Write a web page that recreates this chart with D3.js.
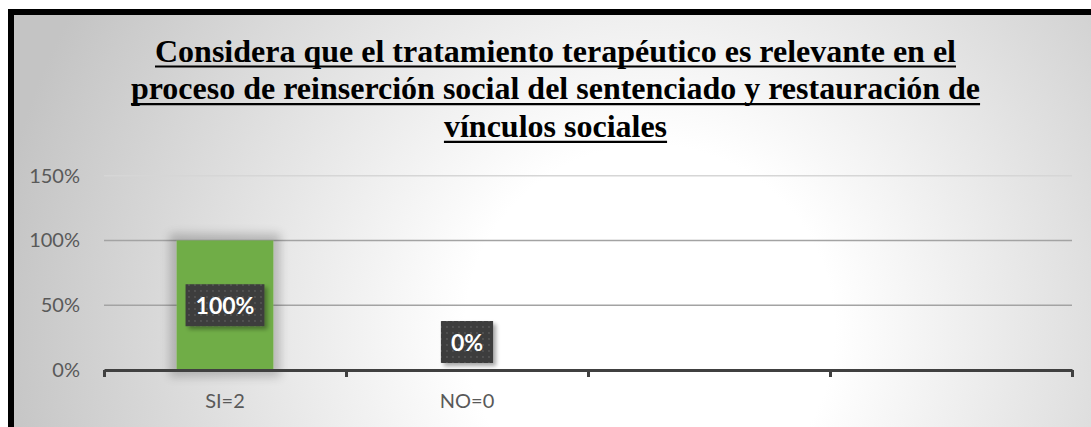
<!DOCTYPE html>
<html><head><meta charset="utf-8">
<script src="https://cdn.jsdelivr.net/npm/d3@7"></script>
<style>html,body{margin:0;padding:0;background:#fff;overflow:hidden}</style>
</head><body>
<svg id="chart" width="1091" height="427"></svg>
<script>
const titleLines = ["Considera que el tratamiento terapéutico es relevante en el",
  "proceso de reinserción social del sentenciado y restauración de",
  "vínculos sociales"];
const categories = ["SI=2", "NO=0", "", ""];
const values = [1, 0];
const valueLabels = ["100%", "0%"];
const yTicks = [0, 0.5, 1, 1.5];

const svg = d3.select("#chart");
const defs = svg.append("defs");

const bg = defs.append("radialGradient").attr("id", "bg")
  .attr("gradientUnits", "userSpaceOnUse")
  .attr("cx", 650).attr("cy", 330).attr("r", 660);
bg.append("stop").attr("offset", 0).attr("stop-color", "#ffffff");
bg.append("stop").attr("offset", 0.28).attr("stop-color", "#ffffff");
bg.append("stop").attr("offset", 1).attr("stop-color", "#c4c4c4");

const pat = defs.append("pattern").attr("id", "dots")
  .attr("patternUnits", "userSpaceOnUse").attr("width", 6).attr("height", 6);
pat.append("rect").attr("width", 6).attr("height", 6).attr("fill", "#3c3c3c");
pat.append("circle").attr("cx", 3).attr("cy", 3).attr("r", 0.9).attr("fill", "#5a5a5a");

const glow = defs.append("filter").attr("id", "glow")
  .attr("x", "-40%").attr("y", "-40%").attr("width", "180%").attr("height", "180%");
glow.append("feMorphology").attr("in", "SourceAlpha").attr("operator", "dilate").attr("radius", 7).attr("result", "d");
glow.append("feGaussianBlur").attr("in", "d").attr("stdDeviation", 5).attr("result", "b");
glow.append("feComponentTransfer").attr("in", "b").attr("result", "s")
  .append("feFuncA").attr("type", "linear").attr("slope", 0.2);
const gm = glow.append("feMerge");
gm.append("feMergeNode").attr("in", "s");
gm.append("feMergeNode").attr("in", "SourceGraphic");

const sh = defs.append("filter").attr("id", "lblshadow")
  .attr("x", "-30%").attr("y", "-30%").attr("width", "170%").attr("height", "170%");
sh.append("feOffset").attr("in", "SourceAlpha").attr("dx", 3).attr("dy", 3).attr("result", "o");
sh.append("feGaussianBlur").attr("in", "o").attr("stdDeviation", 2).attr("result", "b");
sh.append("feComponentTransfer").attr("in", "b").attr("result", "s")
  .append("feFuncA").attr("type", "linear").attr("slope", 0.35);
const sm = sh.append("feMerge");
sm.append("feMergeNode").attr("in", "s");
sm.append("feMergeNode").attr("in", "SourceGraphic");

// background + frame
svg.append("rect").attr("x", 11).attr("y", 12).attr("width", 1200).attr("height", 600)
  .attr("fill", "url(#bg)").attr("stroke", "#000").attr("stroke-width", 6);

// title
const tg = svg.append("g");
titleLines.forEach((t, i) => {
  const yb = 61.5 + i * 37.7;
  const txt = tg.append("text").attr("x", 555.5).attr("y", yb)
    .attr("text-anchor", "middle")
    .style("font-family", "'Liberation Serif','Times New Roman',serif")
    .style("font-weight", "bold").style("font-size", "32px").attr("fill", "#000")
    .text(t);
  const w = txt.node().getComputedTextLength();
  tg.append("line").attr("x1", 555.5 - w / 2).attr("x2", 555.5 + w / 2)
    .attr("y1", yb + 5).attr("y2", yb + 5).attr("stroke", "#000").attr("stroke-width", 2.2);
});

// scales
const pLeft = 104, pRight = 1072, pTop = 175.7, pBottom = 370;
const x = d3.scaleBand().domain(d3.range(categories.length)).range([pLeft, pRight]).padding(0);
const xEdge = d3.scaleLinear().domain([0, categories.length]).range([pLeft, pRight]);
const y = d3.scaleLinear().domain([0, 1.5]).range([pBottom, pTop]);

// gridlines
svg.append("g").selectAll("line").data(yTicks.filter(d => d > 0)).join("line")
  .attr("x1", pLeft).attr("x2", pRight)
  .attr("y1", d => y(d)).attr("y2", d => y(d))
  .attr("stroke", d => d === 1.5 ? "#d6d6d6" : "#a3a3a3").attr("stroke-width", 1.5);

// y axis labels
const yAxis = d3.axisLeft(y).tickValues(yTicks).tickFormat(d3.format(".0%")).tickSize(0).tickPadding(0);
const ya = svg.append("g").attr("transform", `translate(80,0)`).call(yAxis);
ya.select(".domain").remove();
ya.selectAll("text").attr("fill", "#595959").style("font-family", "Lato, sans-serif").style("font-size", "20px");

// bars
const bw = x.bandwidth() * 0.4;
svg.append("g").selectAll("rect").data(values).join("rect")
  .filter(d => d > 0)
  .attr("x", (d, i) => x(i) + (x.bandwidth() - bw) / 2)
  .attr("y", d => y(d)).attr("width", bw).attr("height", d => y(0) - y(d))
  .attr("fill", "#70ad47").attr("filter", "url(#glow)");

// x axis
const xAxis = d3.axisBottom(xEdge).tickValues(d3.range(categories.length + 1)).tickFormat("").tickSizeInner(7).tickSizeOuter(0);
const xa = svg.append("g").attr("transform", `translate(0,${pBottom})`).call(xAxis);
xa.select(".domain").attr("stroke", "#404040").attr("stroke-width", 3);
xa.selectAll(".tick line").attr("stroke", "#404040").attr("stroke-width", 3);

svg.append("g").selectAll("text").data(categories).join("text")
  .attr("x", (d, i) => x(i) + x.bandwidth() / 2).attr("y", 408)
  .attr("text-anchor", "middle").attr("fill", "#595959")
  .style("font-family", "Lato, sans-serif").style("font-size", "20px")
  .text(d => d);

// value labels
const lg = svg.append("g");
values.forEach((v, i) => {
  const cx = x(i) + x.bandwidth() / 2;
  const h = 42;
  let cy = y(v / 2);
  cy = Math.min(cy, y(0) - 7 - h / 2);
  const g = lg.append("g");
  const r = g.append("rect").attr("fill", "url(#dots)").attr("filter", "url(#lblshadow)");
  const t = g.append("text").attr("x", cx).attr("y", cy + 8.5)
    .attr("text-anchor", "middle").attr("fill", "#fff")
    .style("font-family", "Lato, sans-serif").style("font-weight", "bold").style("font-size", "23px")
    .text(valueLabels[i]);
  const w = t.node().getComputedTextLength() + 20;
  r.attr("x", cx - w / 2).attr("y", cy - h / 2).attr("width", w).attr("height", h);
});
</script>
</body></html>
